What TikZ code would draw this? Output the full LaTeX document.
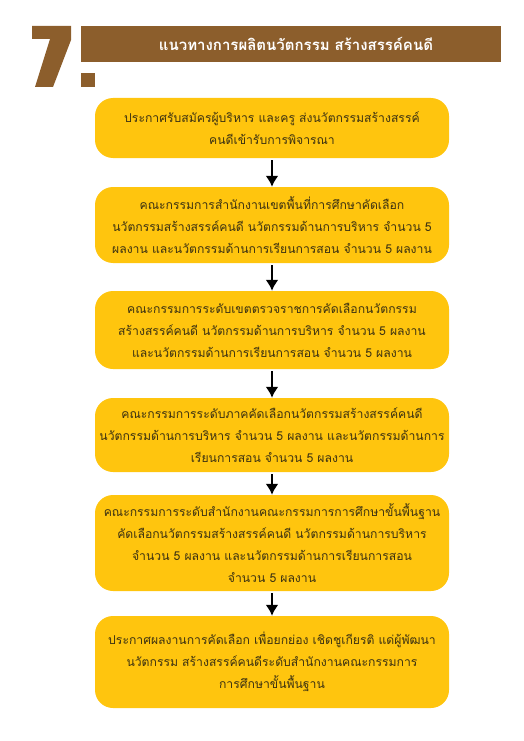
\documentclass[tikz,border=0pt]{standalone}
\usepackage{fontspec}
\newfontfamily\thaifont[Script=Thai]{Loma}
\usetikzlibrary{arrows.meta,positioning}
\definecolor{mybrown}{RGB}{140,94,44}
\definecolor{myyellow}{RGB}{255,197,14}
\definecolor{mytext}{RGB}{60,50,18}

\tikzset{
  stepbox/.style={fill=myyellow, rounded corners=18pt, minimum width=354pt,
    text width=346pt, align=center, text=mytext, inner sep=4pt,
    font=\thaifont\fontsize{12.2pt}{22pt}\selectfont},
  headtext/.style={text=white, font=\thaifont\bfseries\fontsize{15pt}{18pt}\selectfont},
  flow/.style={-{Latex[length=11pt,width=13pt]}, line width=2pt, black, shorten <=2pt}
}

\begin{document}
\begin{tikzpicture}[x=1pt,y=-1pt]
  \def\cx{272}
  \useasboundingbox (0,0) rectangle (523,741);

  %Heading
  \fill[mybrown] (32,26) -- (71,26) -- (71,40) -- (53,87) -- (35,87) -- (50,39) -- (32,39) -- cycle;
  \fill[mybrown] (81,26) rectangle (501,62);
  \fill[mybrown] (81,73) rectangle (95,87);
  \node[headtext] (head) at (296,44) {แนวทางการผลิตนวัตกรรม สร้างสรรค์คนดี};

  %Steps
  \node[stepbox, minimum height=60pt] (s1) at (\cx,128)
    {ประกาศรับสมัครผู้บริหาร และครู ส่งนวัตกรรมสร้างสรรค์\\คนดีเข้ารับการพิจารณา};
  \node[stepbox, minimum height=76pt] (s2) at (\cx,225)
    {คณะกรรมการสำนักงานเขตพื้นที่การศึกษาคัดเลือก\\นวัตกรรมสร้างสรรค์คนดี นวัตกรรมด้านการบริหาร จำนวน 5\\ผลงาน และนวัตกรรมด้านการเรียนการสอน จำนวน 5 ผลงาน};
  \node[stepbox, minimum height=78pt] (s3) at (\cx,330)
    {คณะกรรมการระดับเขตตรวจราชการคัดเลือกนวัตกรรม\\สร้างสรรค์คนดี นวัตกรรมด้านการบริหาร จำนวน 5 ผลงาน\\และนวัตกรรมด้านการเรียนการสอน จำนวน 5 ผลงาน};
  \node[stepbox, minimum height=74pt] (s4) at (\cx,435)
    {คณะกรรมการระดับภาคคัดเลือกนวัตกรรมสร้างสรรค์คนดี\\นวัตกรรมด้านการบริหาร จำนวน 5 ผลงาน และนวัตกรรมด้านการ\\เรียนการสอน จำนวน 5 ผลงาน};
  \node[stepbox, minimum height=96pt] (s5) at (\cx,543)
    {คณะกรรมการระดับสำนักงานคณะกรรมการการศึกษาขั้นพื้นฐาน\\คัดเลือกนวัตกรรมสร้างสรรค์คนดี นวัตกรรมด้านการบริหาร\\จำนวน 5 ผลงาน และนวัตกรรมด้านการเรียนการสอน\\จำนวน 5 ผลงาน};
  \node[stepbox, minimum height=92pt] (s6) at (\cx,662)
    {ประกาศผลงานการคัดเลือก เพื่อยกย่อง เชิดชูเกียรติ แด่ผู้พัฒนา\\นวัตกรรม สร้างสรรค์คนดีระดับสำนักงานคณะกรรมการ\\การศึกษาขั้นพื้นฐาน};

  %Arrows
  \foreach \a/\b in {s1/s2, s2/s3, s3/s4, s4/s5, s5/s6}
    \draw[flow] (\a) -- (\b);
\end{tikzpicture}
\end{document}
